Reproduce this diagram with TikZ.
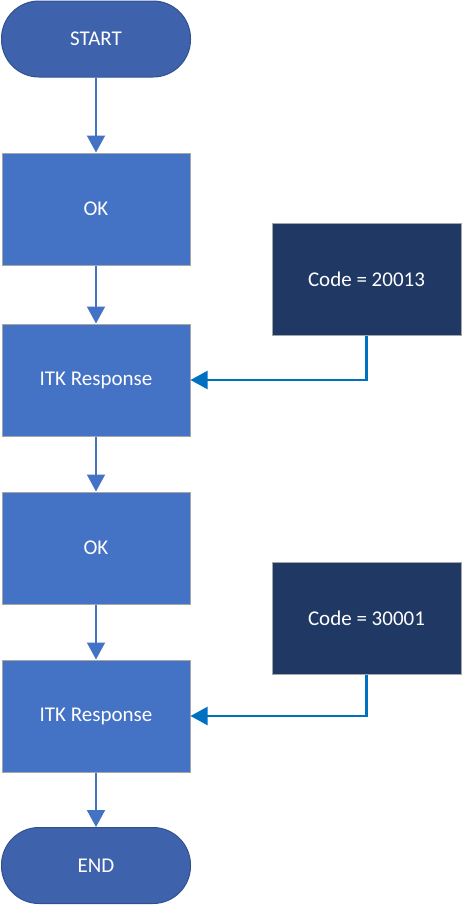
\documentclass[tikz,border=0pt]{standalone}
\usepackage{fontspec}
\setmainfont{Carlito}
\usetikzlibrary{arrows.meta}
\definecolor{termfill}{HTML}{3E63AC}
\definecolor{termdraw}{HTML}{2F528F}
\definecolor{procfill}{HTML}{4472C4}
\definecolor{codefill}{HTML}{203864}
\definecolor{boxedge}{HTML}{A6A6A6}
\definecolor{flowline}{HTML}{4472C4}
\definecolor{sideline}{HTML}{0070C0}
\begin{document}
\begin{tikzpicture}[x=1pt,y=-1pt,
  every node/.style={font=\fontsize{21}{25}\selectfont, text=white, inner sep=0pt},
  term/.style={draw=termdraw, line width=1pt, fill=termfill, rounded corners=37.5pt, minimum width=189pt, minimum height=76pt},
  proc/.style={draw=boxedge, line width=1pt, fill=procfill, minimum width=188pt, minimum height=112pt},
  codebox/.style={draw=boxedge, line width=1pt, fill=codefill, minimum width=189pt, minimum height=112pt},
  flow/.style={draw=flowline, line width=2pt, -{Triangle[width=18pt,length=17pt]}},
  side/.style={draw=sideline, line width=2.2pt, -{Triangle[width=18pt,length=17pt]}}]
\useasboundingbox (0,0) rectangle (462,905);
\node[term] (start) at (96,39) {START};
\node[proc] (ok1) at (96,209) {OK};
\node[proc] (itk1) at (96,380) {ITK Response};
\node[proc] (ok2) at (96,548) {OK};
\node[proc] (itk2) at (96,716) {ITK Response};
\node[term] (end) at (96,865.5) {END};
\node[codebox] (c1) at (366.5,279) {Code = 20013};
\node[codebox] (c2) at (366.5,618) {Code = 30001};
\draw[flow] (start) -- (ok1);
\draw[flow] (ok1) -- (itk1);
\draw[flow] (itk1) -- (ok2);
\draw[flow] (ok2) -- (itk2);
\draw[flow] (itk2) -- (end);
\draw[side] (c1.south) |- (itk1.east);
\draw[side] (c2.south) |- (itk2.east);
\end{tikzpicture}
\end{document}
